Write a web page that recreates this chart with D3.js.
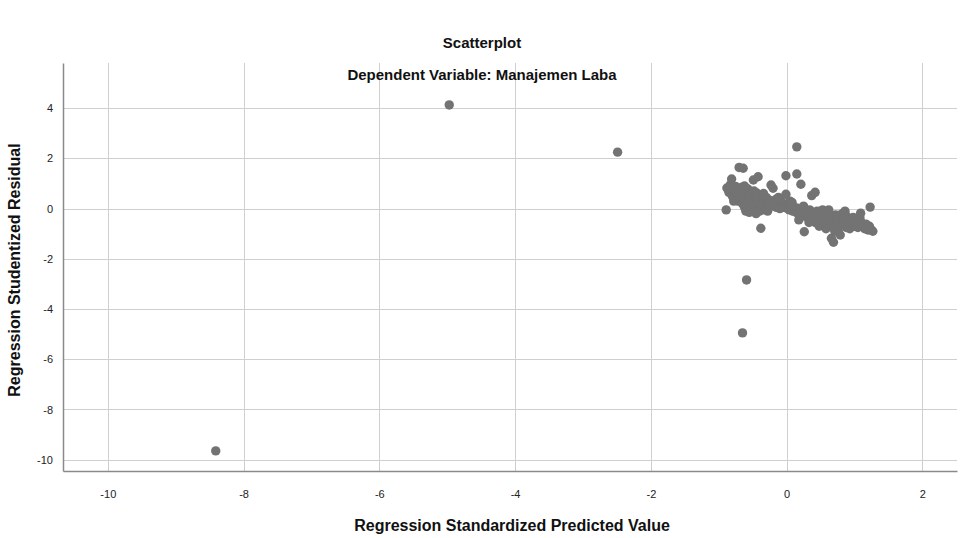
<!DOCTYPE html>
<html>
<head>
<meta charset="utf-8">
<script src="https://cdn.jsdelivr.net/npm/d3@7"></script>
<style>
  html, body { margin: 0; padding: 0; background: #fff; }
  svg { display: block; font-family: "Liberation Sans", Arial, sans-serif; }
</style>
</head>
<body>
<svg id="chart" width="967" height="538"></svg>
<script>
// Regression Standardized Predicted Value (x) and Studentized Residual (y)
const predicted = [
  -8.41, -4.97, -2.49, -0.59, -0.65,
  -0.88, -0.85, -0.83, -0.81, -0.80, -0.78, -0.76, -0.75, -0.73, -0.72, -0.70, -0.70, -0.68, -0.66, -0.65,
  -0.64, -0.63, -0.62, -0.60, -0.60, -0.58, -0.57, -0.55, -0.55, -0.53, -0.52, -0.50, -0.50, -0.49, -0.48,
  -0.47, -0.46, -0.45, -0.44, -0.42, -0.42, -0.40, -0.40, -0.38, -0.38, -0.36, -0.35, -0.33, -0.32, -0.30,
  -0.29, -0.27, -0.26, -0.25, -0.23, -0.22, -0.20, -0.20, -0.18, -0.16, -0.15, -0.13, -0.12, -0.10, -0.08,
  -0.06, -0.05, -0.03, -0.01, -0.01, 0.00, 0.02, 0.04, 0.05, 0.07, 0.09, 0.10, 0.12, 0.15, 0.15,
  0.14, 0.16, 0.18, 0.20, 0.21, 0.22, 0.24, 0.26, 0.27, 0.28, 0.30, 0.32, 0.34, 0.35, 0.37,
  0.38, 0.40, 0.42, 0.42, 0.44, 0.45, 0.47, 0.48, 0.50, 0.52, 0.53, 0.55, 0.56, 0.58, 0.60,
  0.61, 0.63, 0.65, 0.66, 0.67, 0.69, 0.70, 0.72, 0.74, 0.76, 0.78, 0.79, 0.80, 0.82, 0.84,
  0.86, 0.88, 0.90, 0.93, 0.96, 1.00, 1.05, 1.08, 1.09, 1.12, 1.15, 1.18, 1.20, 1.23, 1.25,
  1.27, 1.22, -0.89, -0.58, -0.67, -0.44, 0.18, 0.33, 0.57, 0.74, 0.98, 1.02, 0.88, -0.10, 0.05,
  -0.78, -0.62, -0.54, -0.34, -0.28, -0.14, 0.08, 0.25, 0.46, 0.62, 0.71, 0.85, 1.10, 1.17
];
const residual = [
  -9.65, 4.13, 2.25, -2.84, -4.95,
  0.82, 0.65, 0.95, 1.18, 0.50, 0.75, 0.40, 0.88, 0.60, 0.30, 0.70, 1.64, 0.45, 0.85, 0.20,
  1.61, 0.55, 0.05, 0.65, -0.10, 0.35, 0.78, 0.50, -0.15, 0.25, 0.60, 0.40, -0.05, 1.14, 0.70,
  0.15, 0.45, -0.20, 0.55, 1.27, 0.30, -0.10, 0.50, -0.78, 0.20, 0.40, -0.05, 0.35, 0.10, 0.45,
  0.25, 0.05, 0.35, 0.15, 0.94, 0.30, 0.81, 0.10, 0.25, 0.35, 0.05, 0.20, 0.45, 0.15, 0.28,
  0.05, 0.20, 0.12, 0.57, 1.31, 0.02, 0.18, -0.05, 0.10, 0.00, -0.10, 0.08, -0.05, 1.38, 2.46,
  -0.15, 0.02, -0.20, -0.08, 0.97, -0.25, -0.10, -0.92, -0.30, -0.12, -0.20, -0.40, -0.05, -0.25, 0.52,
  -0.35, -0.15, 0.65, -0.55, -0.30, -0.10, -0.45, -0.70, -0.25, -0.40, -0.05, -0.60, -0.30, -0.80, -0.45,
  -0.15, -0.55, -0.35, -1.18, -0.70, -1.34, -0.45, -0.25, -0.60, -0.85, -0.40, -1.05, -0.65, -0.20, -0.55,
  -0.10, -0.75, -0.45, -0.80, -0.60, -0.70, -0.75, -0.36, -0.18, -0.70, -0.80, -0.75, -0.85, 0.06, -0.85,
  -0.90, -0.70, -0.05, 0.58, 0.52, 0.62, -0.45, -0.55, -0.20, -0.30, -0.35, -0.55, -0.30, 0.00, 0.30,
  0.30, 0.90, 0.10, 0.60, -0.10, 0.40, 0.25, 0.10, -0.20, -0.05, -0.90, -0.35, -0.55, -0.62
];
const xTicks = [-10, -8, -6, -4, -2, 0, 2];
const yTicks = [4, 2, 0, -2, -4, -6, -8, -10];
const titleText = "Scatterplot";
const subtitleText = "Dependent Variable: Manajemen Laba";
const xTitle = "Regression Standardized Predicted Value";
const yTitle = "Regression Studentized Residual";

const svg = d3.select("#chart");
const m = { left: 63, right: 957, top: 63, bottom: 471 };

const x = d3.scaleLinear().domain([-10.66, 2.51]).range([m.left, m.right]);
const y = d3.scaleLinear().domain([-10.45, 5.8]).range([m.bottom, m.top]);

// gridlines
const grid = svg.append("g");
grid.selectAll("line.vx").data(xTicks).join("line")
  .attr("x1", d => Math.round(x(d)) + 0.5).attr("x2", d => Math.round(x(d)) + 0.5)
  .attr("y1", m.top).attr("y2", m.bottom)
  .attr("stroke", "#cfcfcf").attr("stroke-width", 1);
grid.selectAll("line.hy").data(yTicks).join("line")
  .attr("x1", m.left).attr("x2", m.right)
  .attr("y1", d => Math.round(y(d)) + 0.5).attr("y2", d => Math.round(y(d)) + 0.5)
  .attr("stroke", "#cfcfcf").attr("stroke-width", 1);

// axes (plain hyphen minus like the original)
const fmt = d => String(d);
const xAxis = d3.axisBottom(x).tickValues(xTicks).tickSize(0).tickPadding(23).tickFormat(fmt);
const yAxis = d3.axisLeft(y).tickValues(yTicks).tickSize(0).tickPadding(10).tickFormat(fmt);

const gx = svg.append("g").attr("transform", `translate(0,${m.bottom})`).call(xAxis);
const gy = svg.append("g").attr("transform", `translate(${m.left},0)`).call(yAxis);
[gx, gy].forEach(g => {
  g.select(".domain").attr("stroke", "#8a8a8a").attr("stroke-width", 1.5);
  g.selectAll(".tick text").attr("font-size", 11).attr("fill", "#222")
    .attr("font-family", "'Liberation Sans', Arial, sans-serif");
});
gx.selectAll(".tick text").attr("dy", "0.32em");

// points
svg.append("g").selectAll("circle").data(predicted.map((v, i) => [v, residual[i]])).join("circle")
  .attr("cx", d => x(d[0])).attr("cy", d => y(d[1])).attr("r", 4.7)
  .attr("fill", "#737373");

// titles
svg.append("text").attr("x", 482).attr("y", 48).attr("text-anchor", "middle")
  .attr("font-size", 15).attr("font-weight", "bold").attr("fill", "#111").text(titleText);
svg.append("text").attr("x", 482).attr("y", 80).attr("text-anchor", "middle")
  .attr("font-size", 15).attr("font-weight", "bold").attr("fill", "#111").text(subtitleText);
svg.append("text").attr("x", 512).attr("y", 531).attr("text-anchor", "middle")
  .attr("font-size", 16).attr("font-weight", "bold").attr("fill", "#111").text(xTitle);
svg.append("text").attr("transform", "translate(20,270) rotate(-90)").attr("text-anchor", "middle")
  .attr("font-size", 16).attr("font-weight", "bold").attr("fill", "#111").text(yTitle);
</script>
</body>
</html>
